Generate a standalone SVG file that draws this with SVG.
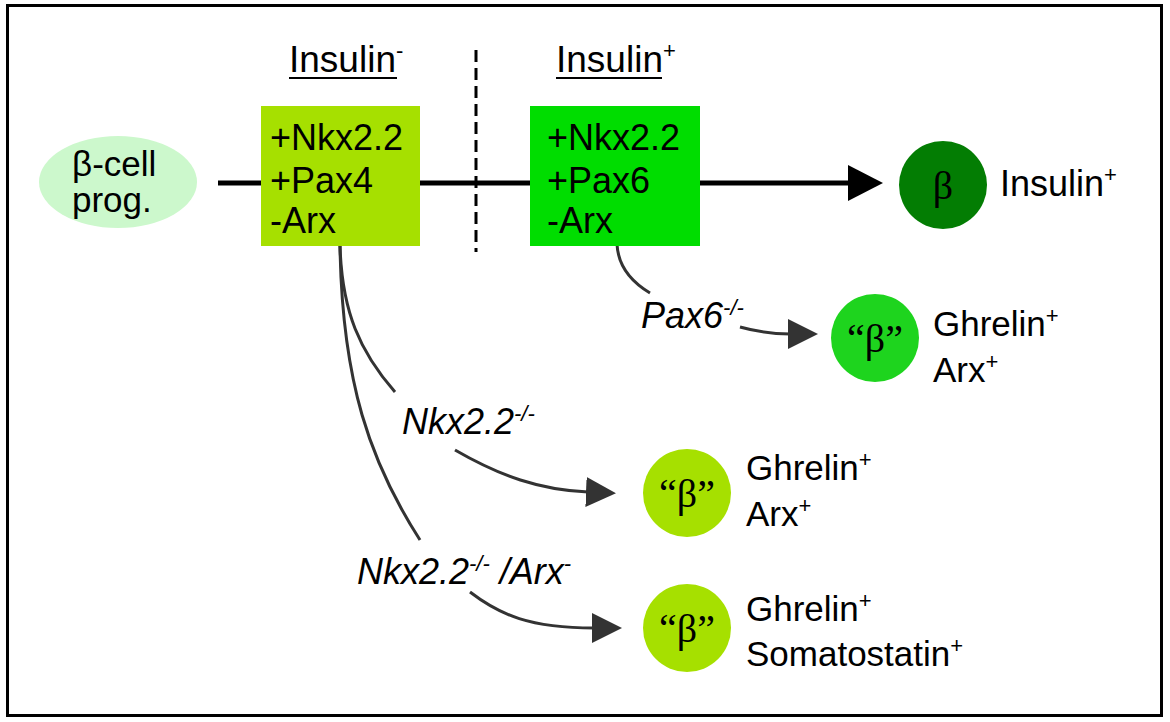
<svg xmlns="http://www.w3.org/2000/svg" width="1170" height="722" viewBox="0 0 1170 722">
<style>
.t{font-family:"Liberation Sans",Arial,sans-serif;fill:#000}
.i{font-style:italic}
.g{font-family:"Liberation Serif","Times New Roman",serif;fill:#000}
.c{fill:none;stroke:#333;stroke-width:3}
.sup{font-size:22px}
</style>
<defs>
<marker id="ah" markerUnits="userSpaceOnUse" markerWidth="32" markerHeight="32" refX="2" refY="15" orient="auto">
<path d="M0,0 L30,15 L0,30 Z" fill="#333"/>
</marker>
<marker id="mh" markerUnits="userSpaceOnUse" markerWidth="40" markerHeight="40" refX="2" refY="18" orient="auto">
<path d="M0,0 L35,18 L0,36 Z" fill="#000"/>
</marker>
</defs>
<rect x="7.5" y="5.5" width="1154" height="710" fill="#fff" stroke="#000" stroke-width="3"/>

<g id="connectors">
<line x1="218" y1="183" x2="850" y2="183" stroke="#000" stroke-width="5" marker-end="url(#mh)"/>
<line x1="476" y1="50" x2="476" y2="252" stroke="#000" stroke-width="3" stroke-dasharray="12,6"/>
<path class="c" d="M617,244 C618,266 630,281 650,293"/>
<path class="c" d="M740,327 C758,332 772,334 790,334" marker-end="url(#ah)"/>
<path class="c" d="M340,246 C342,312 360,352 395,392"/>
<path class="c" d="M455,450 C500,476 540,490 588,492" marker-end="url(#ah)"/>
<path class="c" d="M340,246 C342,382 370,462 420,540"/>
<path class="c" d="M470,592 C500,615 530,628 594,628" marker-end="url(#ah)"/>
</g>

<g id="headings">
<text class="t" x="289" y="72" font-size="37">Insulin<tspan class="sup" dy="-14">-</tspan></text>
<line x1="289" y1="78" x2="397" y2="78" stroke="#000" stroke-width="2"/>
<text class="t" x="556" y="72" font-size="37">Insulin<tspan class="sup" dy="-14">+</tspan></text>
<line x1="556" y1="78" x2="662" y2="78" stroke="#000" stroke-width="2"/>
</g>

<g id="prog">
<ellipse cx="118" cy="182" rx="79" ry="46" fill="#ccf8cc"/>
<text class="t" x="72" y="176" font-size="35">β-cell</text>
<text class="t" x="72" y="212" font-size="35">prog.</text>
</g>

<g id="box1">
<rect x="261" y="106" width="159" height="140" fill="#a6e000"/>
<text class="t" x="270" y="150" font-size="36">+Nkx2.2</text>
<text class="t" x="270" y="193" font-size="36">+Pax4</text>
<text class="t" x="270" y="233" font-size="36">-Arx</text>
</g>

<g id="box2">
<rect x="530" y="106" width="170" height="140" fill="#00dd00"/>
<text class="t" x="547" y="150" font-size="36">+Nkx2.2</text>
<text class="t" x="547" y="193" font-size="36">+Pax6</text>
<text class="t" x="547" y="233" font-size="36">-Arx</text>
</g>

<g id="beta">
<circle cx="943" cy="185" r="44" fill="#037d03"/>
<text class="g" x="943" y="199" font-size="40" text-anchor="middle">β</text>
<text class="t" x="1000" y="196" font-size="36">Insulin<tspan class="sup" dy="-14">+</tspan></text>
</g>

<g id="pax6">
<text class="t i" x="641" y="328" font-size="36">Pax6<tspan class="sup" dy="-13">-/-</tspan></text>
<circle cx="875" cy="338" r="44" fill="#1ed41e"/>
<text class="g" x="875" y="352" font-size="40" text-anchor="middle">“β”</text>
<text class="t" x="933" y="336" font-size="35">Ghrelin<tspan class="sup" dy="-13">+</tspan></text>
<text class="t" x="933" y="382" font-size="35">Arx<tspan class="sup" dy="-13">+</tspan></text>
</g>

<g id="nkx">
<text class="t i" x="402" y="434" font-size="36">Nkx2.2<tspan class="sup" dy="-13">-/-</tspan></text>
<circle cx="687" cy="493" r="44" fill="#a6e000"/>
<text class="g" x="687" y="507" font-size="40" text-anchor="middle">“β”</text>
<text class="t" x="746" y="480" font-size="35">Ghrelin<tspan class="sup" dy="-13">+</tspan></text>
<text class="t" x="746" y="526" font-size="35">Arx<tspan class="sup" dy="-13">+</tspan></text>
</g>

<g id="nkxarx">
<text class="t i" x="357" y="584" font-size="36">Nkx2.2<tspan class="sup" dy="-13">-/-</tspan><tspan dy="13"> /Arx</tspan><tspan class="sup" dy="-13">-</tspan></text>
<circle cx="687" cy="628" r="44" fill="#a6e000"/>
<text class="g" x="687" y="642" font-size="40" text-anchor="middle">“β”</text>
<text class="t" x="746" y="621" font-size="35">Ghrelin<tspan class="sup" dy="-13">+</tspan></text>
<text class="t" x="746" y="666" font-size="35">Somatostatin<tspan class="sup" dy="-13">+</tspan></text>
</g>
</svg>
